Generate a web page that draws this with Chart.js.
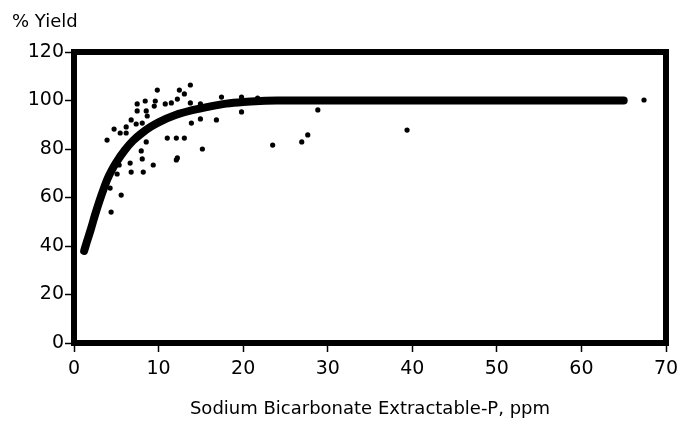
<!DOCTYPE html>
<html>
<head>
<meta charset="utf-8">
<script src="https://cdn.jsdelivr.net/npm/chart.js@4/dist/chart.umd.min.js"></script>
<style>
  html, body { margin: 0; padding: 0; background: #fff; }
  #wrap { width: 681px; height: 421px; }
</style>
</head>
<body>
<div id="wrap"><canvas id="chart" width="681" height="421"></canvas></div>
<script>
(function () {
  "use strict";

  // fitted response curve
  var curveX = [1.2, 1.5, 2, 2.5, 3, 3.5, 4, 4.5, 5, 6, 7, 8, 9, 10, 12, 14, 16, 18, 20, 22, 24, 30, 40, 50, 60, 65];
  var curveY = [38, 41.5, 47, 53, 58.5, 63.5, 68, 71.5, 74.5, 79.5, 83.5, 86.5, 89, 91, 94, 96, 97.5, 98.7, 99.4, 99.8, 100, 100, 100, 100, 100, 100];

  // observed yields
  var dotX = [9.85, 12.46, 13.76, 13.05, 9.61, 8.42, 7.47, 10.79, 11.51, 12.22, 13.76, 9.49, 7.47, 8.54,
    8.66, 6.76, 7.35, 8.07, 6.17, 4.74, 5.46, 6.17, 3.91, 11.03, 12.10, 13.05, 8.54, 13.88, 15.18,
    7.95, 12.22, 8.07, 5.34, 6.64, 9.37, 12.10, 5.10, 6.76, 8.19, 4.27, 5.58, 4.39, 17.44, 19.81,
    14.95, 14.95, 16.84, 19.81, 21.71, 23.49, 26.93, 27.64, 28.83, 39.38, 67.4];
  var dotY = [104.3, 104.3, 106.4, 102.7, 99.8, 99.8, 98.6, 98.6, 99.0, 100.6, 99.0, 97.7, 95.7, 95.7,
    93.6, 92.0, 90.3, 90.7, 89.1, 88.2, 86.6, 86.6, 83.7, 84.5, 84.5, 84.5, 82.9, 90.7, 80.0,
    79.2, 76.3, 75.9, 73.4, 74.2, 73.4, 75.5, 69.7, 70.5, 70.5, 63.9, 61.0, 54.0, 101.4, 101.4,
    98.6, 92.4, 92.0, 95.3, 101.0, 81.6, 82.9, 85.8, 96.1, 87.8, 100.2];

  var xTicks = [0, 10, 20, 30, 40, 50, 60, 70];
  var yTicks = [0, 20, 40, 60, 80, 100, 120];

  var Y_TITLE = "% Yield";
  var X_TITLE = "Sodium Bicarbonate Extractable-P, ppm";
  var FONT = "'DejaVu Sans', sans-serif";

  function pairs(xs, ys) {
    return xs.map(function (x, i) { return { x: x, y: ys[i] }; });
  }

  var framePlugin = {
    id: "frame",
    afterDatasetsDraw: function (chart) {
      var a = chart.chartArea;
      var ctx = chart.ctx;
      ctx.save();
      ctx.strokeStyle = "#000";
      ctx.lineWidth = 6;
      ctx.strokeRect(a.left, a.top, a.right - a.left, a.bottom - a.top);
      ctx.fillStyle = "#000";
      ctx.font = "18px " + FONT;
      ctx.textBaseline = "middle";
      ctx.textAlign = "left";
      ctx.fillText(Y_TITLE, 12, 22);
      ctx.restore();
    }
  };

  new Chart(document.getElementById("chart"), {
    type: "scatter",
    data: {
      datasets: [{
        data: pairs(dotX, dotY),
        backgroundColor: "#000",
        borderColor: "#000",
        pointRadius: 2.6,
        pointHoverRadius: 2.6,
        borderWidth: 0,
      }, {
        data: pairs(curveX, curveY),
        showLine: true,
        borderColor: "#000",
        borderWidth: 8,
        borderCapStyle: "round",
        cubicInterpolationMode: "monotone",
        pointRadius: 0,
        pointHoverRadius: 0,
      }],
    },
    options: {
      responsive: false,
      animation: false,
      layout: { padding: { top: 52, right: 15, left: 0, bottom: 0 } },
      plugins: { legend: { display: false }, tooltip: { enabled: false } },
      scales: {
        x: {
          type: "linear",
          min: 0,
          max: 70,
          afterBuildTicks: function (s) { s.ticks = xTicks.map(function (v) { return { value: v }; }); },
          afterFit: function (s) { s.height = 78; s.paddingRight = 0; s.paddingLeft = 0; },
          ticks: { color: "#000", font: { family: FONT, size: 19 }, padding: 6, maxRotation: 0 },
          grid: { drawOnChartArea: false, color: "#000", tickLength: 9, tickWidth: 1.5 },
          border: { display: false },
          title: { display: true, text: X_TITLE, color: "#000", font: { family: FONT, size: 18 }, padding: { top: 0, bottom: 1 } },
        },
        y: {
          type: "linear",
          min: 0,
          max: 120,
          afterBuildTicks: function (s) { s.ticks = yTicks.map(function (v) { return { value: v }; }); },
          afterFit: function (s) { s.width = 74; },
          ticks: { color: "#000", font: { family: FONT, size: 19 }, padding: 1 },
          grid: { drawOnChartArea: false, color: "#000", tickLength: 9, tickWidth: 1.5 },
          border: { display: false },
        },
      },
    },
    plugins: [framePlugin],
  });
})();
</script>
</body>
</html>
